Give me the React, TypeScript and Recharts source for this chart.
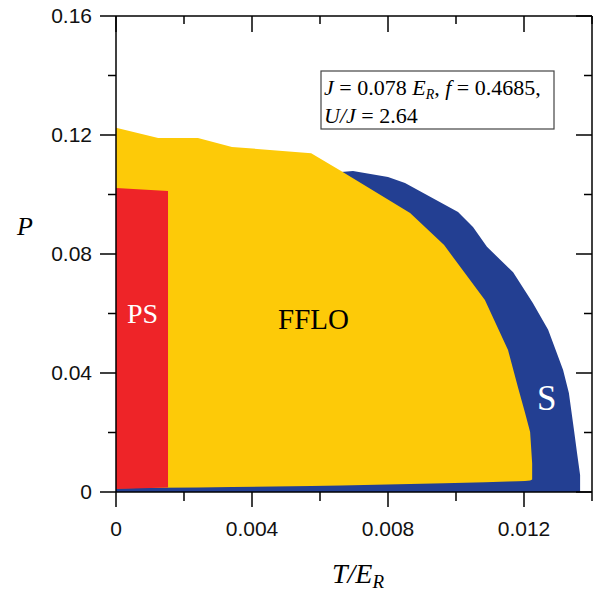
import React from "react";
import { ComposedChart, Area, XAxis, YAxis } from "recharts";

const xTicks = [0, 0.002, 0.004, 0.006, 0.008, 0.01, 0.012, 0.014];
const xTickLabels = ["0", "", "0.004", "", "0.008", "", "0.012", ""];
const yTicks = [0, 0.02, 0.04, 0.06, 0.08, 0.1, 0.12, 0.14, 0.16];
const yTickLabels = ["0", "", "0.04", "", "0.08", "", "0.12", "", "0.16"];

// S phase (blue), goes down to P = 0
const sT = [0, 0.00574, 0.00662, 0.00697, 0.008, 0.0085, 0.01006, 0.0105, 0.01091, 0.01168, 0.01226, 0.01271, 0.01291, 0.01315, 0.01332, 0.01347, 0.01356, 0.01365];
const sTop = [0.1, 0.106, 0.1076, 0.1079, 0.1059, 0.1039, 0.0941, 0.0891, 0.0824, 0.0739, 0.0635, 0.0545, 0.0484, 0.041, 0.0333, 0.0208, 0.0131, 0.0057];

// FFLO phase (yellow)
const ffloT = [0, 0.00124, 0.00241, 0.00341, 0.00574, 0.00662, 0.00865, 0.00965, 0.01085, 0.01153, 0.01182, 0.01203, 0.01218, 0.01224];
const ffloLow = [0.0013, 0.0014, 0.0015, 0.0017, 0.002, 0.0022, 0.0027, 0.0029, 0.0033, 0.0035, 0.0036, 0.0037, 0.0039, 0.0042];
const ffloHigh = [0.1224, 0.119, 0.119, 0.116, 0.1139, 0.1079, 0.0938, 0.083, 0.0645, 0.0477, 0.0353, 0.0266, 0.0202, 0.0097];

// PS phase (red)
const psT = [0, 0.00153];
const psLow = [0.001, 0.0015];
const psHigh = [0.1022, 0.1012];

const BLUE = "#233f92";
const YELLOW = "#fdca08";
const RED = "#ee2428";

const sData = sT.map((t, i) => ({ t, range: [0, sTop[i]] }));
const ffloData = ffloT.map((t, i) => ({ t, range: [ffloLow[i], ffloHigh[i]] }));
const psData = psT.map((t, i) => ({ t, range: [psLow[i], psHigh[i]] }));

const tickFont = { fontFamily: "'Liberation Sans', Arial, sans-serif", fontSize: 21, fill: "#111" };

const BottomTick = ({ x, y, payload }: any) => {
  const label = xTickLabels[xTicks.indexOf(payload.value)];
  return (
    <g>
      <line x1={x} x2={x} y1={y} y2={y + (label ? 15 : 9)} stroke="#000" strokeWidth={1.5} />
      {label && (
        <text x={x} y={y + 44} textAnchor="middle" {...tickFont}>
          {label}
        </text>
      )}
    </g>
  );
};

const TopTick = ({ x, y, payload }: any) => {
  const major = xTickLabels[xTicks.indexOf(payload.value)] !== "";
  return <line x1={x} x2={x} y1={y} y2={y + (major ? 16 : 8)} stroke="#000" strokeWidth={1.5} />;
};

const LeftTick = ({ x, y, payload }: any) => {
  const label = yTickLabels[yTicks.indexOf(payload.value)];
  return (
    <g>
      <line x1={x} x2={x - (label ? 16 : 8)} y1={y} y2={y} stroke="#000" strokeWidth={1.5} />
      {label && (
        <text x={x - 24} y={y + 7} textAnchor="end" {...tickFont}>
          {label}
        </text>
      )}
    </g>
  );
};

const RightTick = ({ x, y, payload }: any) => {
  const major = yTickLabels[yTicks.indexOf(payload.value)] !== "";
  return <line x1={x} x2={x - (major ? 16 : 8)} y1={y} y2={y} stroke="#000" strokeWidth={1.5} />;
};

const serif = "'Liberation Serif', 'Times New Roman', serif";
const axisLine = { stroke: "#000", strokeWidth: 1.5 };

export default function App() {
  return (
    <div style={{ position: "relative", width: 598, height: 593, background: "#fff" }}>
      <style>{"body{margin:0}"}</style>
      <ComposedChart width={598} height={593} margin={{ top: 15, right: 5, bottom: 0, left: 0 }}>
        <XAxis
          xAxisId="b"
          dataKey="t"
          type="number"
          domain={[0, 0.014]}
          ticks={xTicks}
          height={101}
          tickSize={0}
          tickMargin={0}
          tickLine={false}
          axisLine={axisLine}
          tick={<BottomTick />}
          interval={0}
        />
        <XAxis
          xAxisId="top"
          orientation="top"
          dataKey="t"
          type="number"
          domain={[0, 0.014]}
          ticks={xTicks}
          height={1}
          tickSize={0}
          tickMargin={0}
          tickLine={false}
          axisLine={axisLine}
          tick={<TopTick />}
          interval={0}
        />
        <YAxis
          yAxisId="l"
          type="number"
          domain={[0, 0.16]}
          ticks={yTicks}
          width={116}
          tickSize={0}
          tickMargin={0}
          tickLine={false}
          axisLine={axisLine}
          tick={<LeftTick />}
          interval={0}
        />
        <YAxis
          yAxisId="r"
          orientation="right"
          type="number"
          domain={[0, 0.16]}
          ticks={yTicks}
          width={1}
          tickSize={0}
          tickMargin={0}
          tickLine={false}
          axisLine={axisLine}
          tick={<RightTick />}
          interval={0}
        />
        <Area xAxisId="b" yAxisId="l" data={sData} dataKey="range" type="linear" fill={BLUE} fillOpacity={1} stroke="none" dot={false} activeDot={false} isAnimationActive={false} />
        <Area xAxisId="b" yAxisId="l" data={ffloData} dataKey="range" type="linear" fill={YELLOW} fillOpacity={1} stroke="none" dot={false} activeDot={false} isAnimationActive={false} />
        <Area xAxisId="b" yAxisId="l" data={psData} dataKey="range" type="linear" fill={RED} fillOpacity={1} stroke="none" dot={false} activeDot={false} isAnimationActive={false} />
        {/* invisible copy so the top / right frame axes get a scale */}
        <Area xAxisId="top" yAxisId="r" data={sData} dataKey="range" type="linear" fill="none" fillOpacity={0} stroke="none" dot={false} activeDot={false} isAnimationActive={false} />
      </ComposedChart>
      <svg width={598} height={593} style={{ position: "absolute", left: 0, top: 0, pointerEvents: "none" }}>
        <text x={127} y={323} fontFamily={serif} fontSize={28} fill="#fff">PS</text>
        <text x={278} y={329} fontFamily={serif} fontSize={29} fill="#000">FFLO</text>
        <text x={537} y={410} fontFamily={serif} fontSize={35} fill="#fff">S</text>
        <rect x={321} y={71} width={233} height={58} fill="#fff" stroke="#444" strokeWidth={1.2} />
        <text x={324} y={95} fontFamily={serif} fontSize={22} fill="#000" style={{ whiteSpace: "pre" }}>
          <tspan fontStyle="italic">J</tspan>
          <tspan> = 0.078 </tspan>
          <tspan fontStyle="italic">E</tspan>
          <tspan fontStyle="italic" fontSize={14} dy={4}>R</tspan>
          <tspan dy={-4}>, </tspan>
          <tspan fontStyle="italic">f</tspan>
          <tspan> = 0.4685,</tspan>
        </text>
        <text x={324} y={123} fontFamily={serif} fontSize={22} fill="#000" style={{ whiteSpace: "pre" }}>
          <tspan fontStyle="italic">U/J</tspan>
          <tspan> = 2.64</tspan>
        </text>
        <text x={17} y={235} fontFamily={serif} fontSize={26} fontStyle="italic" fill="#000">P</text>
        <text x={332} y={583} fontFamily={serif} fontSize={28} fontStyle="italic" fill="#000">
          <tspan>T/E</tspan>
          <tspan fontSize={19} dy={5}>R</tspan>
        </text>
      </svg>
    </div>
  );
}
